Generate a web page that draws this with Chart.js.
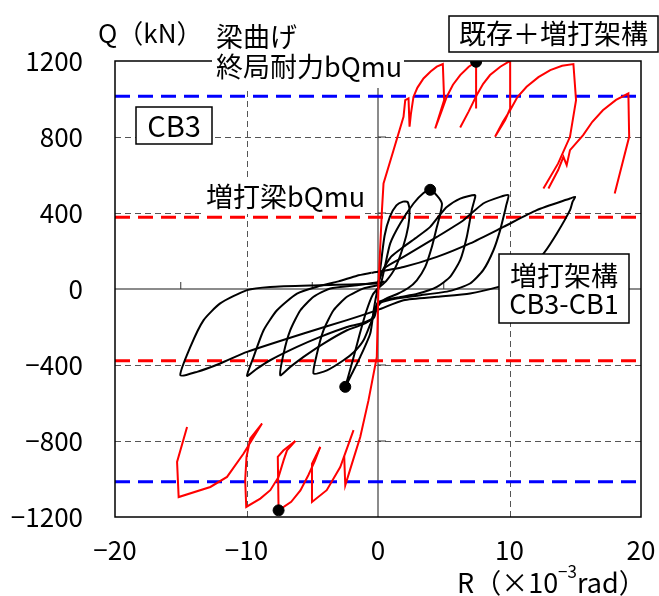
<!DOCTYPE html>
<html><head><meta charset="utf-8">
<script src="https://cdn.jsdelivr.net/npm/chart.js@4.4.1/dist/chart.umd.min.js"></script>
<style>html,body{margin:0;padding:0;background:#fff}canvas{display:block}</style>
</head><body>
<canvas id="c" width="659" height="596"></canvas>
<script>
// ---- data (R in 1e-3 rad, Q in kN) ----
const xTicks = [-20, -10, 0, 10, 20];
const yTicks = [-1200, -800, -400, 0, 400, 800, 1200];
const bQmuExisting = 1015;   // 梁曲げ終局耐力 (blue)
const bQmuAdded = 377;       // 増打梁bQmu (red)

// black: 増打架構 CB3-CB1
const loop25 = [[0,0],[0.2,120],[0.5,280],[0.9,380],[1.4,440],[1.9,460],[2.25,458],[2.4,420],[2.3,330],[1.9,220],[1.3,110],[0.6,40],[0,0],[-0.3,-100],[-0.59,-234],[-1.35,-357],[-1.98,-445],[-2.49,-515],[-2.3,-470],[-1.9,-370],[-1.4,-240],[-0.9,-120],[-0.4,-30],[0.2,20]];
const loop5 = [[0.2,20],[0.5,110],[0.93,240],[1.69,345],[2.7,450],[3.46,505],[3.97,522],[4.5,490],[4.86,450],[4.75,400],[4.48,327],[4.1,222],[3.59,116],[2.95,46],[2.3,5],[1.5,-25],[0.5,-55],[0,-90],[-0.5,-170],[-1.1,-270],[-1.8,-330],[-2.62,-375],[-3.88,-428],[-4.9,-445],[-4.64,-340],[-4.14,-217],[-3.38,-112],[-2.36,-41],[-1.1,3],[0,20]];
const loop75 = [[0,20],[0.3,90],[1.0,170],[1.94,222],[3.0,275],[3.97,327],[4.7,390],[5.23,432],[6.25,476],[7.39,494],[7.3,460],[7.13,415],[6.75,274],[6.25,152],[5.48,64],[4.48,11],[3,-25],[1.5,-45],[0,-70],[-0.5,-160],[-1.3,-190],[-2.36,-217],[-4.14,-287],[-5.66,-357],[-6.67,-410],[-7.43,-454],[-7.18,-340],[-6.67,-217],[-5.9,-112],[-4.9,-41],[-3.63,3],[-1.6,20],[0,35]];
const loop10 = [[0,35],[0.5,110],[1.94,169],[4.48,274],[6.5,362],[8.0,450],[9.29,485],[9.92,494],[9.75,440],[9.67,415],[9.29,310],[8.78,204],[8.0,99],[7.0,29],[5.5,-10],[3,-35],[1,-55],[0,-80],[-0.3,-150],[-1.2,-180],[-2.36,-200],[-4.39,-252],[-6.16,-305],[-8.2,-375],[-9.2,-419],[-9.96,-457],[-9.46,-357],[-8.7,-217],[-7.68,-112],[-6.16,-24],[-4.5,15],[-3,40],[-1.6,70],[-0.5,85]];
const loop15 = [[-0.5,85],[1.94,116],[4.48,169],[7.0,240],[9.54,327],[12.07,415],[14.6,476],[15,485],[14.8,460],[14.6,415],[13.6,292],[12.6,187],[11.5,100],[10.3,40],[9.16,11],[7,-24],[4.5,-41],[1.94,-59],[0,-110],[-2.36,-164],[-5.66,-234],[-9.96,-331],[-12,-392],[-13.76,-436],[-15.03,-454],[-14.27,-305],[-13.26,-164],[-12,-76],[-9.96,-6],[-8.2,11],[-4.4,20],[-0.08,29],[0.5,40]];
const blackMax = [[3.97,522],[-2.49,-515]];

// red: 既存＋増打架構
const redMain = [[-2.57,-880],[-2.49,-1033],[-1.98,-919],[-1.35,-779],[-0.72,-585],[-0.09,-357],[0.04,29],[0.3,415],[0.42,555],[1.18,730],[1.94,906],[2.07,994],[2.32,1003],[2.4,854],[2.5,920],[2.7,1012],[3.0,1060],[3.46,1108],[4.0,1145],[4.47,1170],[4.93,1184],[5.03,994],[4.35,845],[4.8,930],[5.23,1012],[5.7,1075],[6.25,1126],[6.9,1170],[7.46,1196],[7.46,950]];
const redUp2 = [[6.25,850],[6.9,935],[7.5,1020],[8.0,1080],[8.52,1126],[9.3,1170],[10.05,1201],[10.05,950],[9.67,889],[8.9,801],[9.5,880],[10.05,941],[10.6,1010],[11.3,1064],[12.2,1115],[13.1,1152],[14.0,1175],[14.86,1184],[15.06,994],[14.6,801],[13.7,661],[12.58,529]];
const redUp3 = [[12.96,529],[13.7,626],[14.1,696],[14.35,652],[14.6,731],[15.6,810],[16.3,880],[17.1,941],[18.1,995],[19.04,1029],[19.1,801],[18.0,503]];
const redLo1 = [[-1.86,-743],[-2.57,-880],[-2.87,-937],[-3.9,-1059],[-5.02,-1121],[-5.02,-919],[-4.39,-831]];
const redLo2 = [[-4.39,-831],[-4.8,-905],[-5.3,-980],[-5.9,-1060],[-6.6,-1120],[-7.56,-1165],[-7.62,-884],[-7.2,-850],[-6.29,-800]];
const redLo3 = [[-6.29,-800],[-6.92,-849],[-7.18,-902],[-7.56,-989],[-8.19,-1059],[-8.95,-1103],[-10.02,-1147],[-10.1,-1007],[-10.0,-884],[-9.71,-787],[-8.82,-708],[-10.22,-866],[-11.48,-989],[-12.75,-1042],[-15.16,-1095],[-15.28,-910],[-14.52,-726]];
const redMax = [[7.46,1196],[-7.56,-1165]];

// ---- chart ----
const pts = a => a.map(([x,y]) => ({x, y}));
const FONT = '"Noto Sans CJK JP", "Noto Sans", sans-serif';
const fmt = v => (v < 0 ? '\u2212' + Math.abs(v) : String(v));

const ds = [];
[[-bQmuExisting,'#0000ff'],[bQmuExisting,'#0000ff'],[-bQmuAdded,'#ff0000'],[bQmuAdded,'#ff0000']].forEach(([q,c]) => {
  ds.push({data: pts([[-20,q],[20,q]]), showLine:true, borderColor:c, borderWidth:3, borderDash:[15,8], pointRadius:0, order:5});
});
[loop25, loop5, loop75, loop10, loop15].forEach(l => {
  ds.push({data: pts(l), showLine:true, borderColor:'#000', borderWidth:2, pointRadius:0, tension:0.2, order:3});
});
[redMain, redUp2, redUp3, redLo1, redLo2, redLo3].forEach(l => {
  ds.push({data: pts(l), showLine:true, borderColor:'#ff0000', borderWidth:2, pointRadius:0, tension:0, order:2});
});
ds.push({data: pts(blackMax.concat(redMax)), showLine:false, pointRadius:5.5, pointBackgroundColor:'#000', pointBorderColor:'#000', order:0});

const deco = {
  id:'deco',
  beforeDatasetsDraw(chart){
    const {ctx, chartArea:a, scales:{x, y}} = chart;
    ctx.save();
    ctx.strokeStyle = '#555'; ctx.lineWidth = 1; ctx.setLineDash([6,4]);
    [-10,10].forEach(v => { const px = Math.round(x.getPixelForValue(v))+0.5; ctx.beginPath(); ctx.moveTo(px,a.top); ctx.lineTo(px,a.bottom); ctx.stroke(); });
    [-800,-400,400,800].forEach(v => { const py = Math.round(y.getPixelForValue(v))+0.5; ctx.beginPath(); ctx.moveTo(a.left,py); ctx.lineTo(a.right,py); ctx.stroke(); });
    ctx.setLineDash([]); ctx.strokeStyle = '#666'; ctx.lineWidth = 1.5;
    const x0 = x.getPixelForValue(0), y0 = y.getPixelForValue(0);
    ctx.beginPath(); ctx.moveTo(x0,a.top); ctx.lineTo(x0,a.bottom); ctx.moveTo(a.left,y0); ctx.lineTo(a.right,y0); ctx.stroke();
    ctx.lineWidth = 1; ctx.strokeStyle = '#333';
    [-15,-5,5,15].forEach(v => { const px = x.getPixelForValue(v); ctx.beginPath(); ctx.moveTo(px,y0); ctx.lineTo(px,y0-7); ctx.stroke(); });
    [-800,-400,400,800].forEach(v => { const py = y.getPixelForValue(v); ctx.beginPath(); ctx.moveTo(x0,py); ctx.lineTo(x0+8,py); ctx.stroke(); });
    ctx.restore();
  },
  afterDatasetsDraw(chart){
    const {ctx, chartArea:a} = chart;
    ctx.save();
    ctx.strokeStyle = '#000'; ctx.lineWidth = 1.5;
    ctx.strokeRect(a.left, a.top, a.right - a.left, a.bottom - a.top);
    const txt = (s, x, y, size, align) => { ctx.font = size + 'px ' + FONT; ctx.textAlign = align || 'left'; ctx.textBaseline = 'middle'; ctx.fillStyle = '#000'; ctx.fillText(s, x, y); };
    const box = (x, y, w, h) => { ctx.fillStyle = '#fff'; ctx.fillRect(x, y, w, h); ctx.lineWidth = 1.5; ctx.strokeStyle = '#000'; ctx.strokeRect(x, y, w, h); };
    const bg = (x, y, w, h) => { ctx.fillStyle = '#fff'; ctx.fillRect(x, y, w, h); };
    txt('Q（kN）', 98, 33, 26);
    txt('梁曲げ', 216, 37, 27);
    bg(212, 49, 192, 39);
    txt('終局耐力bQmu', 216, 67, 27);
    bg(203, 180, 160, 34);
    txt('増打梁bQmu', 206, 197, 27);
    box(449, 16, 209, 36); txt('既存＋増打架構', 553.5, 34, 27, 'center');
    box(136, 107, 76, 37); txt('CB3', 174, 126, 29, 'center');
    box(499, 254, 130, 69); txt('増打架構', 564, 276, 27, 'center'); txt('CB3-CB1', 564, 304, 27, 'center');
    let cx = 457;
    ctx.textAlign = 'left'; ctx.textBaseline = 'middle'; ctx.fillStyle = '#000';
    ctx.font = '27px ' + FONT; const p1 = 'R（×10'; ctx.fillText(p1, cx, 583); cx += ctx.measureText(p1).width;
    ctx.font = '17px ' + FONT; const p2 = '−3'; ctx.fillText(p2, cx, 572); cx += ctx.measureText(p2).width;
    ctx.font = '27px ' + FONT; ctx.fillText('rad）', cx, 583);
    ctx.restore();
  }
};

new Chart(document.getElementById('c'), {
  type: 'scatter',
  data: {datasets: ds},
  options: {
    responsive: false, animation: false, devicePixelRatio: 1,
    layout: {padding: {left: 0, right: 18, top: 61, bottom: 0}},
    plugins: {legend: {display: false}, tooltip: {enabled: false}},
    scales: {
      x: {type: 'linear', min: -20, max: 20,
          afterBuildTicks: s => { s.ticks = xTicks.map(v => ({value: v})); },
          ticks: {padding: 18, color: '#000', font: {family: FONT, size: 26}, callback: fmt, maxRotation: 0},
          grid: {display: false, drawTicks: false}, border: {display: false},
          afterFit: s => { s.height = 79; s.paddingLeft = 0; s.paddingRight = 0; }},
      y: {type: 'linear', min: -1200, max: 1200,
          afterBuildTicks: s => { s.ticks = yTicks.map(v => ({value: v})); },
          ticks: {padding: 32, color: '#000', font: {family: FONT, size: 26}, callback: fmt},
          grid: {display: false, drawTicks: false}, border: {display: false},
          afterFit: s => { s.width = 115; s.paddingTop = 0; s.paddingBottom = 0; }}
    }
  },
  plugins: [deco]
});
</script>
</body></html>
